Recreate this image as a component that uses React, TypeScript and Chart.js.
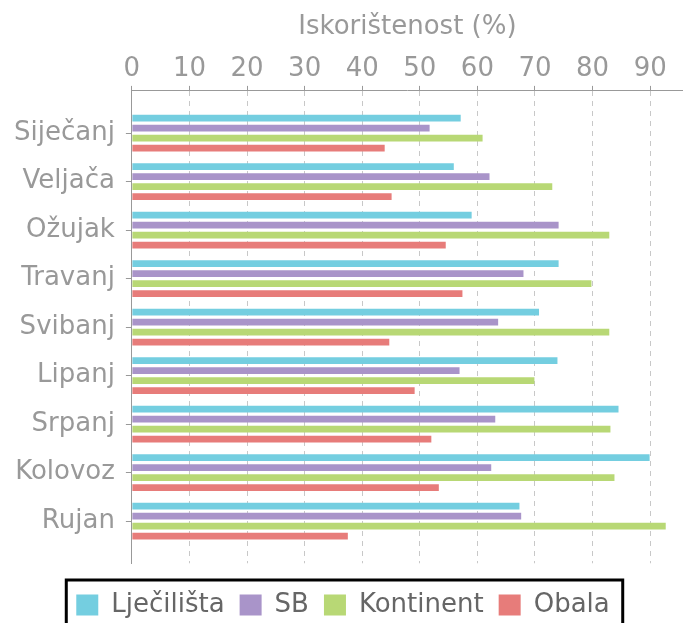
import React, { useEffect, useRef } from "react";
import { Chart, registerables } from "chart.js";

Chart.register(...registerables);

const months = ["Siječanj", "Veljača", "Ožujak", "Travanj", "Svibanj", "Lipanj", "Srpanj", "Kolovoz", "Rujan"];
const ljecilista = [57.1, 55.9, 59.0, 74.1, 70.7, 73.9, 84.5, 89.9, 67.3];
const sb = [51.7, 62.1, 74.1, 68.0, 63.6, 56.9, 63.1, 62.4, 67.6];
const kontinent = [60.9, 73.0, 82.9, 79.8, 82.9, 69.9, 83.1, 83.8, 92.7];
const obala = [43.9, 45.1, 54.5, 57.4, 44.7, 49.1, 52.0, 53.3, 37.5];
const seriesNames = ["Lječilišta", "SB", "Kontinent", "Obala"];
const seriesColors = ["#74CEE0", "#A994C9", "#B8D875", "#E77C7A"];
const xTicks = [0, 10, 20, 30, 40, 50, 60, 70, 80, 90];
const axisTitle = "Iskorištenost (%)";

const FONT = "'DejaVu Sans', sans-serif";

const legendBorder = {
  id: "legendBorder",
  afterDraw(chart: any) {
    const lg = chart.legend;
    if (!lg || !lg.legendHitBoxes || !lg.legendHitBoxes.length) return;
    const boxes = lg.legendHitBoxes;
    const left = Math.min(...boxes.map((b: any) => b.left)) - 10;
    const right = Math.max(...boxes.map((b: any) => b.left + b.width)) + 13;
    const top = Math.min(...boxes.map((b: any) => b.top)) - 12;
    const ctx = chart.ctx;
    ctx.save();
    ctx.lineWidth = 3;
    ctx.strokeStyle = "#000";
    ctx.strokeRect(left, top, right - left, chart.height + 20 - top);
    ctx.restore();
  },
};

export default function App() {
  const ref = useRef<HTMLCanvasElement | null>(null);
  useEffect(() => {
    if (!ref.current) return;
    const series = [ljecilista, sb, kontinent, obala];
    const chart = new Chart(ref.current, {
      type: "bar",
      data: {
        labels: months,
        datasets: series.map((d, i) => ({
          label: seriesNames[i],
          data: d,
          backgroundColor: seriesColors[i],
          borderWidth: 0,
          categoryPercentage: 0.825,
          barPercentage: 0.67,
        })),
      },
      options: {
        indexAxis: "y",
        animation: false,
        responsive: true,
        maintainAspectRatio: false,
        layout: { padding: { top: 6.5, left: 3, right: 0, bottom: 0 } },
        scales: {
          x: {
            type: "linear",
            position: "top",
            min: 0,
            max: 95.7,
            afterBuildTicks: (scale: any) => {
              scale.ticks = xTicks.map((v) => ({ value: v }));
            },
            ticks: { color: "#999", font: { family: FONT, size: 26 }, padding: 1 },
            grid: { color: "#c8c8c8", tickLength: 5, tickColor: "#999", lineWidth: 1 },
            border: { display: true, color: "#999", dash: [5, 5] },
            title: {
              display: true,
              text: axisTitle,
              color: "#999",
              font: { family: FONT, size: 26 },
              padding: { top: 5, bottom: 10 },
            },
          },
          y: {
            type: "category",
            offset: false,
            afterBuildTicks: (scale: any) => {
              scale._startValue = -0.87;
              scale._valueRange = months.length - 1 + 1.74;
            },
            grid: { drawOnChartArea: false, drawTicks: true, tickLength: 6, tickColor: "#999", offset: false },
            border: { display: true, color: "#999" },
            ticks: { color: "#999", font: { family: FONT, size: 26 }, padding: 11 },
          },
        },
        plugins: {
          legend: {
            position: "bottom",
            labels: { boxWidth: 22, boxHeight: 21, padding: 15, color: "#666", font: { family: FONT, size: 26 } },
            title: { display: true, text: "", font: { size: 10, lineHeight: 1.37 }, padding: 0 },
          },
          tooltip: { enabled: false },
        },
      },
      plugins: [legendBorder],
    } as any);
    return () => chart.destroy();
  }, []);
  return (
    <div style={{ position: "fixed", left: 0, top: 0, width: 683, height: 628 }}>
      <canvas ref={ref} />
    </div>
  );
}
